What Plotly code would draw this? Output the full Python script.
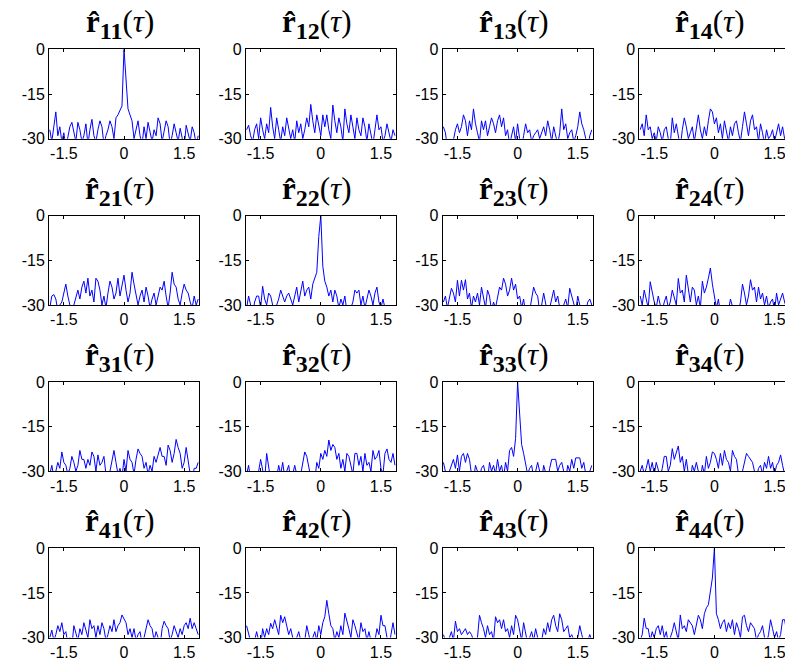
import plotly.graph_objects as go
from plotly.subplots import make_subplots

# lag axis (seconds): 75 samples from -1.85 to 1.85
tau = [round(-1.85 + 0.05 * i, 2) for i in range(75)]

x_tick_vals = [-1.5, 0, 1.5]
x_tick_text = ["-1.5", "0", "1.5"]
y_tick_vals = [0, -15, -30]
y_tick_text = ["0", "-15", "-30"]

r11 = [-27, -31, -26, -21, -29, -26, -31, -28, -33, -30,
       -26, -24.5, -28, -31, -24.5, -27, -31, -29, -25, -32,
       -27, -23.5, -29, -31, -27, -24, -26, -32, -29, -27,
       -24, -26, -30, -23, -22, -20.5, -19, 0, -9, -20,
       -22, -24, -30, -27, -24, -29, -32, -26, -30, -24.5,
       -28, -31, -27, -29, -23, -25, -31, -28, -24, -26,
       -32, -29, -25, -28, -31, -26.5, -30, -33, -25.5, -29,
       -31, -26, -28, -32, -29]
r12 = [-27, -25.5, -29, -31, -27, -25, -30, -23, -27, -30,
       -25, -28, -19.5, -26, -30, -23, -27, -31, -26, -29,
       -23, -26, -30, -27, -31, -24, -28, -25, -30, -27,
       -23, -26, -18.5, -24, -28, -22, -25, -29, -22, -26,
       -22, -27, -30, -18.7, -24, -28, -23, -26, -31, -20,
       -25, -28, -22, -26, -30, -23, -27, -29, -23, -26,
       -31, -25, -28, -32, -27, -22, -27, -26, -31, -29,
       -25, -28, -31, -27, -29]
r13 = [-26, -28, -33, -31, -34, -30, -27, -25, -28, -26,
       -22, -24, -29, -24, -27, -20, -25, -28, -31, -24,
       -27, -24, -29, -26, -23, -25, -28, -24, -22, -26,
       -23, -29, -27, -32, -29, -26, -31, -25, -30, -33,
       -29, -25, -28, -27, -31, -29, -28, -27, -30, -28,
       -26, -29, -24, -27, -31, -26, -29, -32, -28, -20,
       -27, -25, -30, -28, -27, -31, -29, -26, -21, -25,
       -27, -31, -33, -29, -27]
r14 = [-27, -25, -29, -22, -27, -26, -30, -28, -31, -26,
       -28, -31, -27, -26, -30, -32, -23, -28, -25, -30,
       -33, -27, -23, -26, -30, -28, -26, -31, -27, -22,
       -27, -30, -26, -29, -24, -20, -21, -25, -23, -28,
       -25, -30, -24, -27, -31, -26, -29, -25, -24, -28,
       -31, -26, -21, -25, -29, -24, -22, -27, -26, -31,
       -25, -28, -32, -27, -30, -29, -27, -31, -28, -25,
       -29, -26, -30, -28, -30]
r21 = [-31, -27, -26.5, -28, -32, -30, -29, -26, -23, -27,
       -31, -33, -30, -27, -25, -28, -24, -22, -26, -21,
       -27, -25, -29, -21, -22, -25, -30, -27, -31, -26,
       -22, -24, -28, -26, -21, -27, -24, -20, -25, -29,
       -26, -19, -23, -26, -30, -27, -25, -29, -24, -27,
       -31, -28, -26, -30, -27, -24, -25, -22, -27, -31,
       -26, -19, -23, -24, -28, -30, -26, -23, -25, -26,
       -29, -31, -27, -30, -28]
r22 = [-31, -27, -30, -33, -29, -27, -27, -31, -23.7, -28,
       -30, -26, -27, -31, -33, -30, -28, -25, -27, -29,
       -27, -26, -28, -30, -27, -24, -29, -26, -22, -27,
       -25, -24, -28, -23, -21, -19, -7, 0, -17, -22,
       -24, -27, -25, -29, -25, -27, -31, -28, -30, -27,
       -32, -34, -31, -29, -25, -26, -25, -30, -27, -31,
       -28, -25, -27, -30, -26, -24, -29, -31, -28, -32,
       -34, -31, -33, -32, -34]
r23 = [-29, -27, -31, -28, -24.4, -26, -29, -21.7, -27, -21.7,
       -25, -21.5, -28, -26, -31, -27, -29, -26, -30, -24,
       -28, -31, -25, -27, -32, -29, -31, -28, -24, -25,
       -21, -23, -27, -25, -21, -25, -23, -28, -27, -31,
       -28, -33, -30, -32, -28, -24, -26, -27, -32, -30,
       -26, -29, -33, -31, -28, -25, -29, -27, -31, -33,
       -30, -28, -31, -24.4, -27, -30, -32, -27, -31, -33,
       -30, -32, -29, -28, -30]
r24 = [-27, -30, -25, -28, -31, -22.2, -26, -29, -31, -27,
       -30, -32, -29, -27, -31, -29, -25, -28, -30, -21.1,
       -26, -25, -29, -20, -25, -29, -24, -25, -30, -27,
       -31, -22, -26, -24, -21, -17.6, -23, -27, -31, -28,
       -33, -31, -34, -30, -32, -28, -31, -33, -30, -32,
       -29, -23, -26, -30, -27, -21.5, -25, -24, -29, -24,
       -28, -26, -30, -27, -31, -29, -28, -32, -26, -30,
       -28, -26, -29, -31, -28]
r31 = [-31, -28, -32, -30, -27, -29, -23.5, -27, -28, -31,
       -29, -25, -27, -30, -28, -23, -26, -26, -29, -26,
       -28, -23.5, -25, -30, -24.5, -28, -27, -25, -31, -33,
       -30, -27, -23, -27, -31, -29, -32, -26, -30, -23,
       -26, -27, -31, -26, -22.5, -24, -25, -29, -27, -31,
       -28, -30, -25, -27, -24, -22, -25, -25, -28, -21.2,
       -23, -27, -24, -19.3, -22, -24, -29, -27, -22, -27,
       -31, -33, -29, -29, -27]
r32 = [-31, -28, -33, -31, -34, -32, -30, -26, -31, -33,
       -24, -30, -33, -31, -34, -32, -28, -31, -27, -32,
       -30, -28, -33, -31, -28, -32, -34, -31, -27, -23.5,
       -25, -28, -32, -30, -33, -27, -29, -24, -26, -23,
       -25, -19.5, -23, -21, -22, -26, -24, -29, -26, -30,
       -24, -25, -29, -31, -24, -24, -28, -25, -30, -24,
       -28, -27, -30, -23, -26, -25, -23, -29, -31, -24,
       -22.5, -26, -27, -24, -28]
r33 = [-27, -31, -33, -30, -28, -26, -29, -24.5, -30, -25,
       -24, -27, -24, -26, -31, -33, -28, -30, -32, -29,
       -28, -31, -33, -27, -30, -28, -31, -26, -30, -28,
       -32, -27, -30, -23, -22, -25, -19, 0, -10, -21,
       -24, -27, -31, -29, -28, -32, -30, -27, -31, -33,
       -28, -30, -33, -29, -26, -26, -26, -30, -28, -27,
       -31, -33, -28, -30, -26, -29, -25.5, -25.5, -25.5, -29,
       -27, -31, -33, -30, -28]
r34 = [-30, -28, -31, -29, -26, -30, -27, -31, -27, -30,
       -32, -29, -25, -25, -30, -28, -22.4, -26, -24, -21.5,
       -27, -25, -30, -26, -31, -33, -28, -30, -27, -31,
       -33, -28, -31, -25, -29, -27, -23.5, -24, -26, -29,
       -24, -28, -23, -26, -27, -30, -23, -25, -26, -31,
       -33, -30, -27, -24, -25, -26, -27, -30, -32, -29,
       -28, -31, -27, -29, -25, -29, -27, -31, -28, -27,
       -24.5, -28, -31, -29, -30]
r41 = [-30, -27.5, -31, -29, -26, -28, -25, -29, -28, -32,
       -30, -33, -26, -29, -31, -27, -29, -25, -28, -30,
       -24, -27, -26, -30, -26, -29, -25, -27, -31, -29,
       -26, -28, -24, -28, -26, -25, -22.4, -23.5, -25, -29,
       -27, -30, -27, -31, -29, -28, -32, -30, -27, -24,
       -26, -27, -31, -28, -30, -33, -27, -24.5, -26, -27,
       -31, -29, -26, -28, -30, -27, -29, -26, -25, -27,
       -23.5, -27, -25, -27, -29]
r42 = [-26, -29, -32, -34, -31, -28, -31, -33, -27, -30,
       -27, -29, -25.2, -27, -24, -27, -29, -22.5, -25, -23,
       -26, -29, -27, -31, -33, -30, -28, -31, -34, -31,
       -26, -29, -32, -30, -28, -31, -26, -29, -25, -23,
       -17.5, -22, -26, -27, -31, -28, -30, -26, -29, -21.8,
       -25, -27, -30, -24, -26, -29, -31, -25, -28, -27,
       -31, -28, -32, -34, -31, -27, -29, -22.5, -26, -26,
       -30, -33, -29, -25, -29]
r43 = [-29, -31, -33, -30, -28, -31, -24.5, -28, -27, -29,
       -28, -27, -29, -28, -29, -31, -33, -30, -22.5, -25,
       -27, -30, -26, -29, -28, -31, -23, -25, -24, -27,
       -24, -28, -27, -30, -26, -29, -22.5, -24, -27, -31,
       -25, -29, -32, -30, -28, -31, -27, -30, -33, -31,
       -27, -29, -25, -28, -24, -22.5, -26, -28, -22, -24,
       -28, -27, -26, -30, -29, -31, -33, -30, -26, -29,
       -32, -34, -31, -29, -31]
r44 = [-31, -29, -23.5, -27, -27, -31, -28, -30, -27, -26,
       -29, -26, -30, -28, -32, -30, -28, -25, -29, -31,
       -22.4, -27, -26, -28, -24, -25, -26, -29, -25, -22.5,
       -24, -27, -22, -20, -19, -14, -10, 0, -22, -24,
       -27, -25, -24, -28, -25, -27, -24, -29, -25, -27,
       -30, -23, -22.5, -26, -28, -25, -26, -27, -31, -29,
       -28, -26, -30, -32, -29, -24, -27, -30, -28, -31,
       -29, -24, -24, -28, -30]

series = [[r11, r12, r13, r14],
          [r21, r22, r23, r24],
          [r31, r32, r33, r34],
          [r41, r42, r43, r44]]
labels = [["11", "12", "13", "14"],
          ["21", "22", "23", "24"],
          ["31", "32", "33", "34"],
          ["41", "42", "43", "44"]]

for row in series:
    for s in row:
        assert len(s) == len(tau), len(s)

W, H = 785, 666
box_w, box_h = 150.0, 89.4
col_left = [49.0, 245.8, 442.6, 639.4]
row_top = [49.3, 215.6, 381.9, 548.2]
x_half = 1.87
px_per_unit = box_w / (2 * x_half)

fig = make_subplots(rows=4, cols=4)

annotations = []
for r in range(4):
    for c in range(4):
        k = r * 4 + c + 1
        fig.add_trace(go.Scatter(x=tau, y=series[r][c], mode="lines",
                                 line=dict(color="#0000ff", width=1),
                                 showlegend=False, hoverinfo="skip"),
                      row=r + 1, col=c + 1)
        left = col_left[c]
        right = min(left + box_w, W)
        xr = [-x_half, -x_half + (right - left) / px_per_unit]
        xname = "xaxis" if k == 1 else f"xaxis{k}"
        yname = "yaxis" if k == 1 else f"yaxis{k}"
        y0 = 1 - (row_top[r] + box_h) / H
        y1 = 1 - row_top[r] / H
        fig.layout[xname].update(
            domain=[left / W, right / W], range=xr, automargin=False,
            tickmode="array", tickvals=x_tick_vals, ticktext=x_tick_text,
            ticklabeloverflow="allow",
            ticks="inside", ticklen=3, tickcolor="black",
            showline=True, linecolor="black", linewidth=1, mirror="ticks",
            showgrid=False, zeroline=False,
            tickfont=dict(family="Liberation Sans, Arial", size=16, color="black"))
        fig.layout[yname].update(
            domain=[y0, y1], range=[-30, 0], automargin=False,
            tickmode="array", tickvals=y_tick_vals, ticktext=y_tick_text,
            ticks="inside", ticklen=3, tickcolor="black",
            showline=True, linecolor="black", linewidth=1,
            mirror=("ticks" if c < 3 else False),
            showgrid=False, zeroline=False,
            tickfont=dict(family="Liberation Sans, Arial", size=16, color="black"))
        annotations.append(dict(
            x=(left + box_w / 2 - 4) / W, y=y1, xref="paper", yref="paper",
            xanchor="center", yanchor="bottom", yshift=3, showarrow=False,
            text=(f"<b>r\u0302</b><b><sub><span style='font-size:24px'>{labels[r][c]}</span></sub></b>"
                  f"(<i>\u03c4</i>)"),
            font=dict(family="Liberation Serif, DejaVu Serif", size=31, color="black")))

fig.update_layout(width=W, height=H, margin=dict(l=0, r=0, t=0, b=0, pad=0, autoexpand=False),
                  autosize=False,
                  paper_bgcolor="white", plot_bgcolor="white",
                  annotations=annotations)

fig.write_html(
    "out.html",
    config={"responsive": False, "displayModeBar": False},
    post_script=("var gd=document.getElementById('{plot_id}');"
                 "document.body.style.margin='0';"
                 "document.body.style.overflow='hidden';"
                 "gd.style.position='fixed';gd.style.top='0px';gd.style.left='0px';"))
